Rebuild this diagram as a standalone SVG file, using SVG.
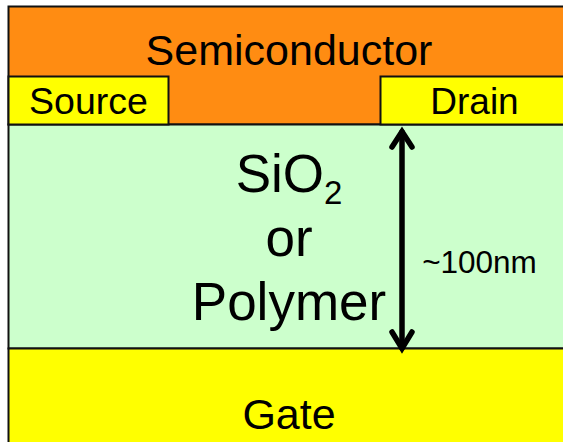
<svg xmlns="http://www.w3.org/2000/svg" width="563" height="442" viewBox="0 0 563 442">
<style>
.l{stroke:#111;stroke-width:2}
text{font-family:"Liberation Sans",Arial,sans-serif;fill:#000;text-anchor:middle}
.a{fill:none;stroke:#000;stroke-width:5.500;stroke-linecap:round;stroke-linejoin:miter}
</style>
<rect width="563" height="442" fill="#fff"/>
<g id="semiconductor"><rect class="l" x="8.500" y="6.500" width="556" height="118" fill="#ff8c12"/>
<text x="289" y="65" font-size="43">Semiconductor</text></g>
<g id="oxide"><rect class="l" x="8.500" y="124.500" width="556" height="224" fill="#ccffcc"/>
<text x="289" y="192" font-size="53">SiO<tspan font-size="33" dy="12">2</tspan></text>
<text x="289" y="256" font-size="53">or</text>
<text x="289" y="320" font-size="53">Polymer</text></g>
<g id="gate"><rect class="l" x="8.500" y="348.500" width="556" height="100" fill="#ffff00"/>
<text x="289" y="429" font-size="43">Gate</text></g>
<g id="source"><rect class="l" x="8.500" y="76.500" width="160" height="48" fill="#ffff00"/>
<text x="88.500" y="114" font-size="37.500">Source</text></g>
<g id="drain"><rect class="l" x="380.500" y="76.500" width="190" height="48" fill="#ffff00"/>
<text x="474.500" y="114" font-size="37">Drain</text></g>
<g id="connectors">
<path class="a" d="M402 132V348"/>
<path class="a" d="M392 147L402 131.500L412 147M392 332L402 348.500L412 332"/>
</g>
<text id="dimension" x="479.500" y="273" font-size="31.500">~100nm</text>
</svg>
